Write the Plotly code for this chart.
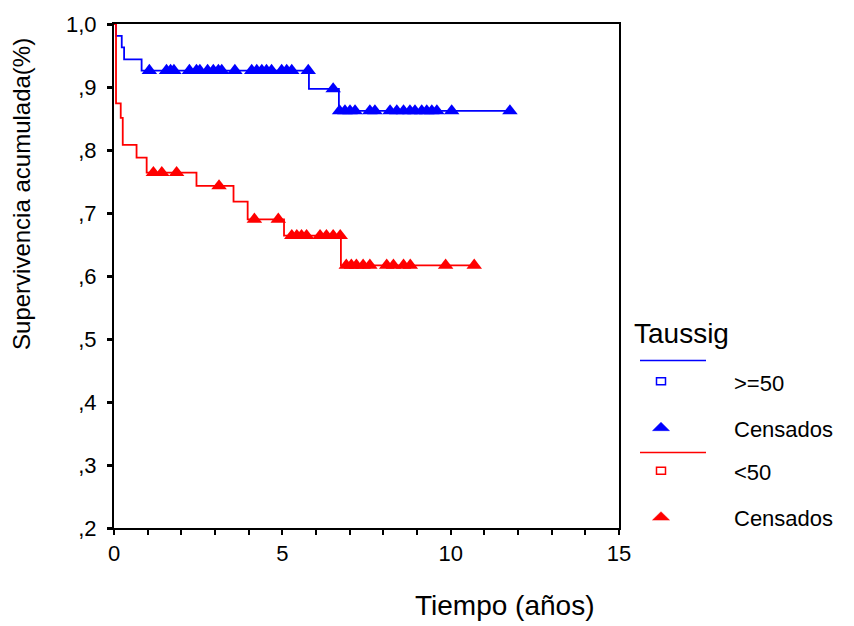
import plotly.graph_objects as go

# Kaplan-Meier survival steps (time in years, cumulative survival)
blue_time = [0, 0.06, 0.23, 0.30, 0.82, 5.79, 6.68, 11.76]
blue_surv = [1.0, 0.981, 0.963, 0.944, 0.926, 0.897, 0.862, 0.862]
blue_censored = [1.05, 1.56, 1.68, 1.78, 2.24, 2.45, 2.55, 2.78, 2.95, 3.10, 3.20,
                 3.59, 4.09, 4.24, 4.39, 4.53, 4.68, 4.98, 5.13, 5.28, 5.77,
                 6.51,
                 6.70, 6.86, 7.01, 7.16, 7.60, 7.75, 8.20, 8.40, 8.60, 8.79, 8.94,
                 9.14, 9.29, 9.44, 9.59, 10.03, 11.76]

red_time = [0, 0.06, 0.20, 0.26, 0.67, 0.97, 2.45, 3.55, 3.97, 5.05, 6.74, 10.70]
red_surv = [1.0, 0.874, 0.851, 0.808, 0.788, 0.764, 0.743, 0.718, 0.690, 0.664, 0.617, 0.617]
red_censored = [1.17, 1.42, 1.86, 3.12, 4.17, 4.88,
                5.28, 5.43, 5.57, 5.72, 6.12, 6.31, 6.51, 6.72,
                6.90, 7.05, 7.20, 7.40, 7.60, 8.10, 8.30, 8.60, 8.80, 9.85, 10.70]

y_ticks = [0.2, 0.3, 0.4, 0.5, 0.6, 0.7, 0.8, 0.9, 1.0]
y_tick_text = [",2", ",3", ",4", ",5", ",6", ",7", ",8", ",9", "1,0"]
x_ticks = list(range(0, 16))
x_tick_text = [str(v) if v % 5 == 0 else "" for v in x_ticks]

group_names = [">=50", "<50"]
legend_title = "Taussig"
censor_label = "Censados"
x_title = "Tiempo (años)"
y_title = "Supervivencia acumulada(%)"

BLUE = "#0000FF"
RED = "#FF0000"
FONT = "Liberation Sans, Arial, sans-serif"

W, H = 854, 626
ML, MR, MT, MB = 114, 235, 18, 98
PW, PH = W - ML - MR, H - MT - MB


def px(x):
    return (x - ML) / PW


def py(y):
    return (H - MB - y) / PH


def surv_at(times, surv, t):
    s = surv[0]
    for ti, si in zip(times, surv):
        if ti <= t:
            s = si
    return s


fig = go.Figure()

for times, surv, cens, color in [(blue_time, blue_surv, blue_censored, BLUE),
                                 (red_time, red_surv, red_censored, RED)]:
    fig.add_trace(go.Scatter(x=times, y=surv, mode="lines",
                             line=dict(color=color, width=1.8, shape="hv"),
                             showlegend=False, hoverinfo="skip"))
    fig.add_trace(go.Scatter(x=cens, y=[surv_at(times, surv, t) for t in cens],
                             mode="markers", cliponaxis=False,
                             marker=dict(symbol="triangle-up", size=13.5, color=color,
                                         line=dict(width=0)),
                             showlegend=False))

# Legend drawn as shapes and text at the right of the plot
shapes = []
annotations = []
legend_rows = [(BLUE, 358.5, 379.5, 425.5, group_names[0]),
               (RED, 451.5, 470.0, 516.0, group_names[1])]
for color, ly, sy, ty, name in legend_rows:
    shapes.append(dict(type="line", xref="paper", yref="paper",
                       x0=px(640), x1=px(706), y0=py(ly), y1=py(ly),
                       line=dict(color=color, width=1.5)))
    shapes.append(dict(type="rect", xref="paper", yref="paper",
                       x0=px(656.5), x1=px(665.5), y0=py(sy - 3.5), y1=py(sy + 3.5),
                       line=dict(color=color, width=1.5), fillcolor="white"))
    shapes.append(dict(type="path", xref="paper", yref="paper",
                       path=f"M {px(652.5)},{py(ty + 4)} L {px(669.5)},{py(ty + 4)} "
                            f"L {px(661)},{py(ty - 4.5)} Z",
                       line=dict(color=color, width=0.5), fillcolor=color))
    annotations.append(dict(text=name, xref="paper", yref="paper",
                            x=px(732), y=py(sy + 2), xanchor="left", yanchor="middle",
                            showarrow=False, font=dict(family=FONT, size=22, color="black")))
    annotations.append(dict(text=censor_label, xref="paper", yref="paper",
                            x=px(732), y=py(ty + 2.5), xanchor="left", yanchor="middle",
                            showarrow=False, font=dict(family=FONT, size=22, color="black")))

annotations.append(dict(text=legend_title, xref="paper", yref="paper",
                        x=px(632), y=py(331), xanchor="left", yanchor="middle",
                        showarrow=False, font=dict(family=FONT, size=28, color="black")))
annotations.append(dict(text=x_title, xref="paper", yref="paper",
                        x=px(504), y=py(606), xanchor="center", yanchor="middle",
                        showarrow=False, font=dict(family=FONT, size=28, color="black")))
annotations.append(dict(text=y_title, xref="paper", yref="paper",
                        x=px(22), y=py(190), xanchor="center", yanchor="middle",
                        textangle=-90, showarrow=False,
                        font=dict(family=FONT, size=24, color="black")))

fig.update_layout(
    width=W, height=H,
    margin=dict(l=ML, r=MR, t=MT, b=MB, pad=0),
    paper_bgcolor="white", plot_bgcolor="white",
    shapes=shapes, annotations=annotations,
    showlegend=False,
    font=dict(family=FONT, color="black"),
)
fig.update_xaxes(range=[0, 15], tickvals=x_ticks, ticktext=x_tick_text,
                 ticks="outside", ticklen=5, tickwidth=2, tickcolor="black",
                 showline=True, linecolor="black", linewidth=2, mirror=True,
                 showgrid=False, zeroline=False,
                 tickfont=dict(family=FONT, size=22, color="black"))
fig.update_yaxes(range=[0.2, 1.0], tickvals=y_ticks, ticktext=y_tick_text,
                 ticks="outside", ticklen=5, tickwidth=3, tickcolor="black",
                 ticklabelstandoff=6,
                 showline=True, linecolor="black", linewidth=2, mirror=True,
                 showgrid=False, zeroline=False,
                 tickfont=dict(family=FONT, size=22, color="black"))

fig.write_html("out.html")
